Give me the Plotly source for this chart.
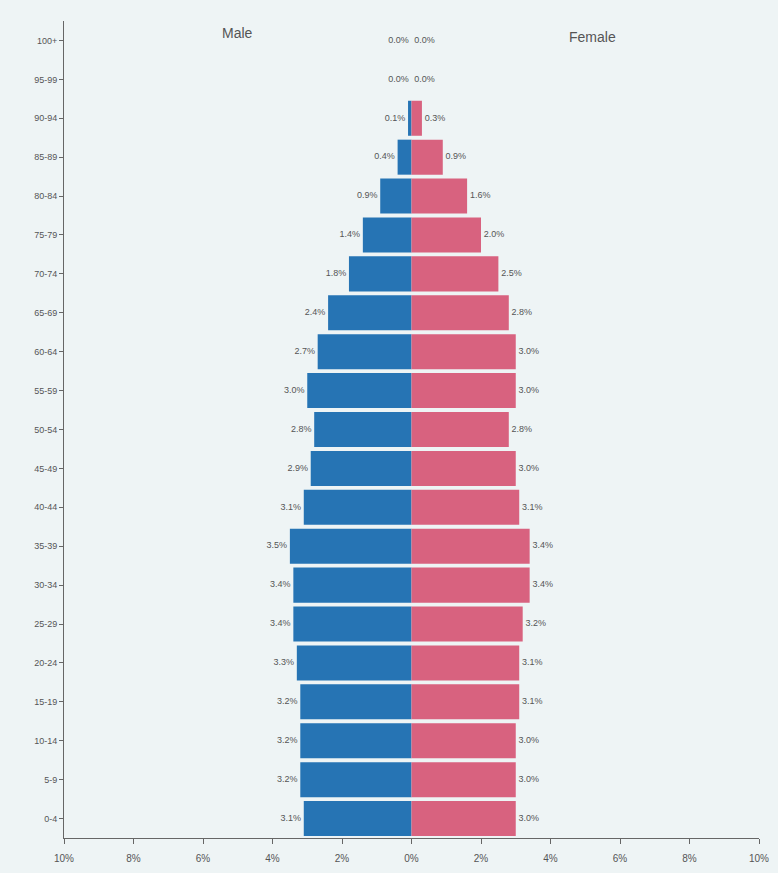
import plotly.graph_objects as go

age_groups = ["0-4", "5-9", "10-14", "15-19", "20-24", "25-29", "30-34", "35-39",
              "40-44", "45-49", "50-54", "55-59", "60-64", "65-69", "70-74",
              "75-79", "80-84", "85-89", "90-94", "95-99", "100+"]
male_pct = [3.1, 3.2, 3.2, 3.2, 3.3, 3.4, 3.4, 3.5, 3.1, 2.9, 2.8, 3.0, 2.7, 2.4,
            1.8, 1.4, 0.9, 0.4, 0.1, 0.0, 0.0]
female_pct = [3.0, 3.0, 3.0, 3.1, 3.1, 3.2, 3.4, 3.4, 3.1, 3.0, 2.8, 3.0, 3.0, 2.8,
              2.5, 2.0, 1.6, 0.9, 0.3, 0.0, 0.0]
x_tickvals = [-10, -8, -6, -4, -2, 0, 2, 4, 6, 8, 10]
x_ticktext = ["10%", "8%", "6%", "4%", "2%", "0%", "2%", "4%", "6%", "8%", "10%"]

male_color = "#2674b4"
female_color = "#d8627f"
text_color = "#555555"
bg = "#eef4f5"
font_family = "Liberation Sans, DejaVu Sans, sans-serif"

fig = go.Figure()
fig.add_trace(go.Bar(
    y=age_groups, x=[-v for v in male_pct], orientation="h",
    marker=dict(color=male_color, line=dict(width=0)), name="Male",
    hoverinfo="skip"))
fig.add_trace(go.Bar(
    y=age_groups, x=female_pct, orientation="h",
    marker=dict(color=female_color, line=dict(width=0)), name="Female",
    hoverinfo="skip"))
fig.add_trace(go.Scatter(
    y=age_groups, x=[-v - 0.08 for v in male_pct], mode="text",
    text=[f"{v:.1f}%" for v in male_pct], textposition="middle left",
    textfont=dict(size=9, color=text_color, family=font_family),
    hoverinfo="skip", cliponaxis=False))
fig.add_trace(go.Scatter(
    y=age_groups, x=[v + 0.08 for v in female_pct], mode="text",
    text=[f"{v:.1f}%" for v in female_pct], textposition="middle right",
    textfont=dict(size=9, color=text_color, family=font_family),
    hoverinfo="skip", cliponaxis=False))

fig.add_annotation(x=-5.0, y=20.2, xref="x", yref="y", text="Male", showarrow=False,
                   font=dict(size=14, color=text_color, family=font_family))
fig.add_annotation(x=5.2, y=20.1, xref="x", yref="y", text="Female", showarrow=False,
                   font=dict(size=14, color=text_color, family=font_family))

fig.update_layout(
    width=778, height=873,
    margin=dict(l=64, r=19, t=21, b=35, autoexpand=False),
    barmode="relative", bargap=0.1,
    showlegend=False,
    paper_bgcolor=bg, plot_bgcolor=bg,
    font=dict(family=font_family, color=text_color),
    xaxis=dict(range=[-10, 10], tickvals=x_tickvals, ticktext=x_ticktext,
               showgrid=False, zeroline=False, showline=True, linecolor="#666666",
               linewidth=1, ticks="outside", ticklen=5, tickcolor="#666666",
               ticklabelstandoff=6,
               automargin=False, tickfont=dict(size=10, color=text_color)),
    yaxis=dict(type="category", categoryorder="array", categoryarray=age_groups,
               range=[-0.5, 20.5], showgrid=False, zeroline=False, showline=True,
               linecolor="#666666", linewidth=1, ticks="outside", ticklen=4,
               tickcolor="#666666", automargin=False,
               tickfont=dict(size=9, color=text_color)),
)

fig.write_html(
    "out.html",
    config={"displayModeBar": False},
    post_script="document.body.style.margin='0';document.body.style.background='#eef4f5';",
)
